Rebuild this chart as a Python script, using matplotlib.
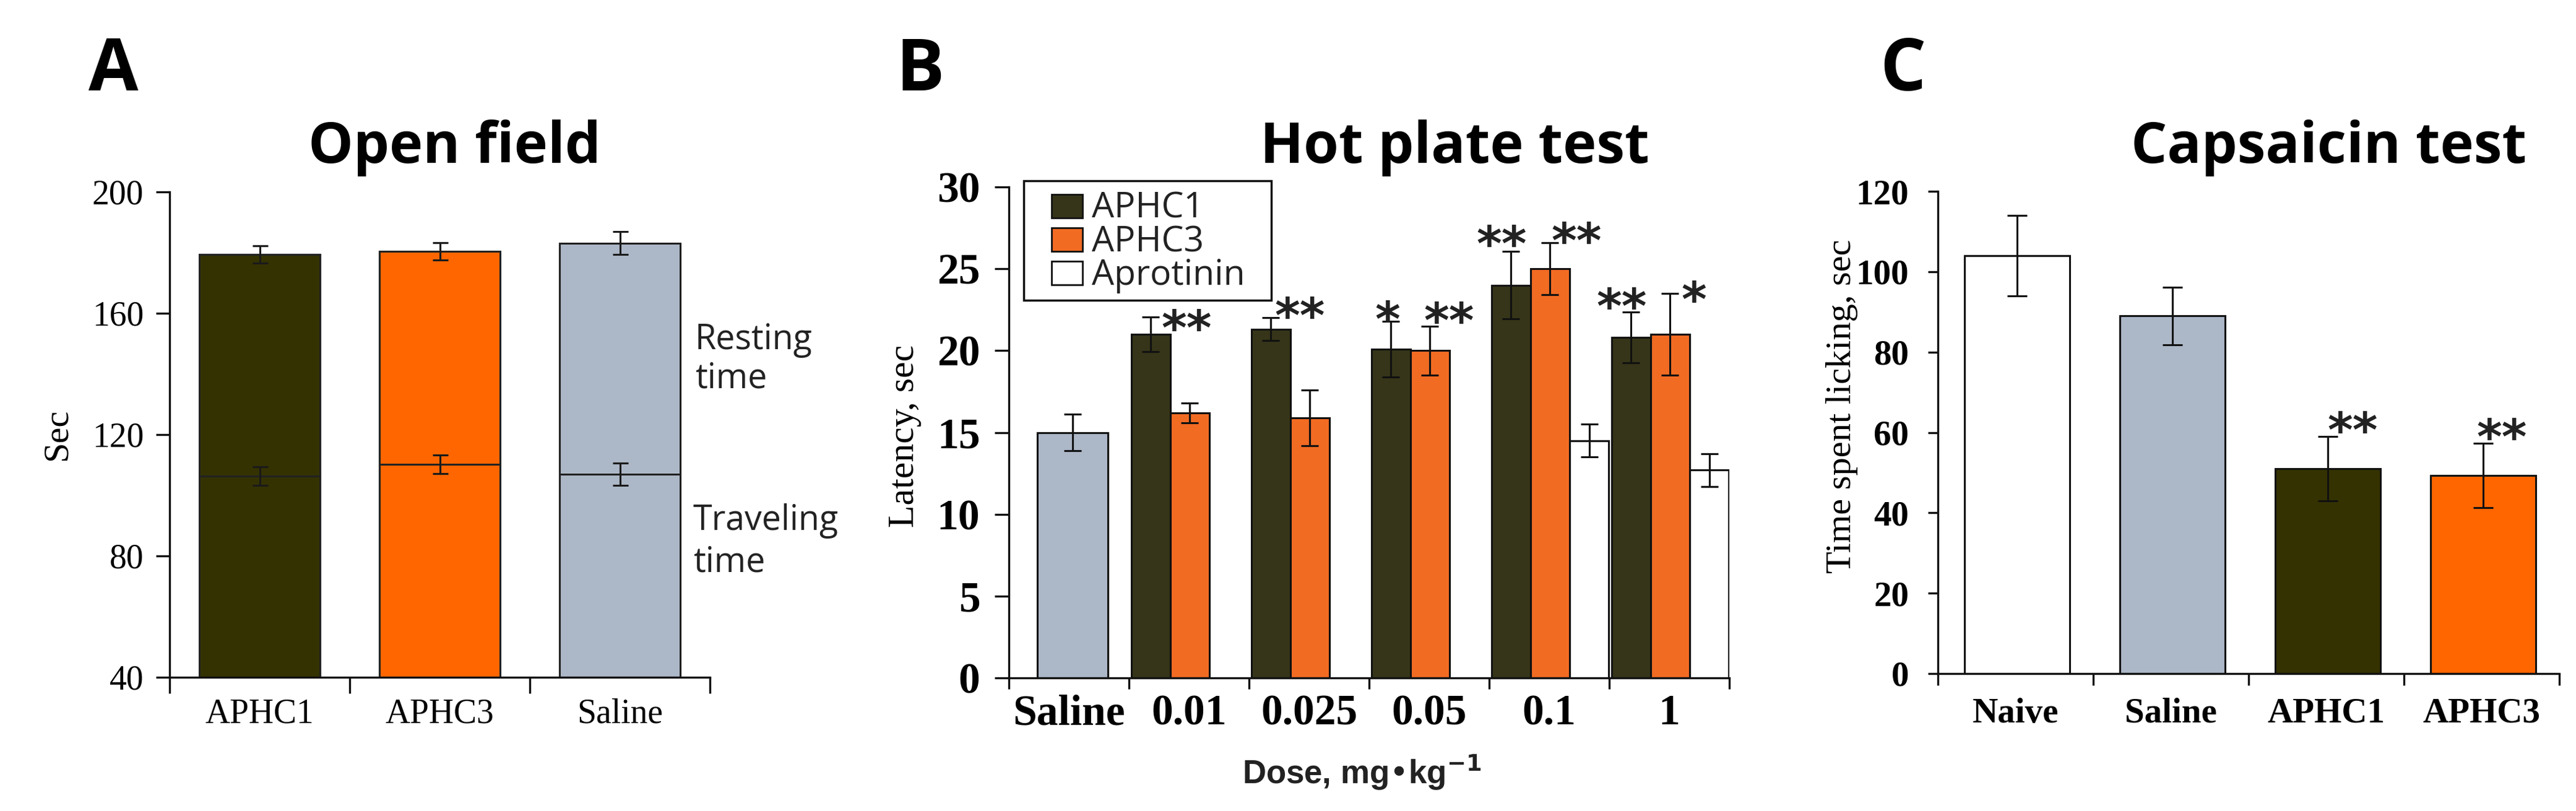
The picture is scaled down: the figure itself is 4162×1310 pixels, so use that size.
import matplotlib
matplotlib.use('Agg')
import matplotlib.pyplot as plt
from matplotlib.patches import Rectangle

# ---- A: Open field ----
grupos_a = ['APHC1', 'APHC3', 'Saline']
viagem = [106.3, 110.2, 107.0]          # traveling time (bottom part)
viagem_err = [3.0, 3.0, 3.7]
descanso = [73.1, 70.2, 76.1]           # resting time (top part)
total_err = [2.8, 2.8, 3.8]

# ---- B: Hot plate test ----
doses = ['Saline', '0.01', '0.025', '0.05', '0.1', '1']
salina_b = 15.0
salina_b_err = 1.1
aphc1_b = [21.0, 21.3, 20.1, 24.0, 20.8]
aphc1_b_err = [1.05, 0.7, 1.7, 2.05, 1.55]
aphc3_b = [16.2, 15.9, 20.0, 25.0, 21.0]
aphc3_b_err = [0.6, 1.7, 1.5, 1.6, 2.5]
aprot_grupo = [4, 5]
aprot_b = [14.5, 12.7]
aprot_b_err = [1.0, 1.0]
estrelas_aphc1_b = ['**', '**', '*', '**', '**']
estrelas_aphc3_b = ['', '', '**', '**', '*']
series_b = ['APHC1', 'APHC3', 'Aprotinin']

# ---- C: Capsaicin test ----
grupos_c = ['Naive', 'Saline', 'APHC1', 'APHC3']
lamber = [104.0, 89.0, 51.0, 49.3]
lamber_err = [10.0, 7.2, 8.0, 8.0]
estrelas_c = ['', '', '**', '**']

OLIVA = '#343200'
LARANJA = '#FF6600'
CINZA = '#ACB7C7'
OLIVA_B = '#363519'
LARANJA_B = '#F26B23'

SERIF = 'Liberation Serif'
SANS = 'Open Sans'
W, H = 4162, 1310

fig = plt.figure(figsize=(W / 100, H / 100), dpi=100)


def caixa(esq, dir_, topo, base):
    return [esq / W, 1 - base / H, (dir_ - esq) / W, (base - topo) / H]


def eixos(ax, ylim, yticks, nbins, nomes, fs, peso, ylen, xlen, ypad, xpad):
    ax.set_xlim(0, nbins)
    ax.set_ylim(*ylim)
    for s in ['top', 'right']:
        ax.spines[s].set_visible(False)
    for s in ['left', 'bottom']:
        ax.spines[s].set_linewidth(2.4)
        ax.spines[s].set_color('#111111')
    ax.set_yticks(yticks)
    ax.set_xticks(range(nbins + 1))
    ax.set_xticklabels([])
    ax.set_xticks([i + 0.5 for i in range(nbins)], minor=True)
    ax.set_xticklabels(nomes, minor=True)
    ax.tick_params(axis='y', direction='out', length=ylen, width=2.4,
                   pad=ypad, labelsize=fs, color='#111111')
    ax.tick_params(axis='x', which='major', direction='out', length=xlen,
                   width=2.4, color='#111111')
    ax.tick_params(axis='x', which='minor', length=0, pad=xpad, labelsize=fs)
    for lab in ax.get_yticklabels() + ax.get_xticklabels(minor=True):
        lab.set_fontfamily(SERIF)
        lab.set_fontweight(peso)


def estrela(ax, x, y, txt):
    ax.annotate(txt, xy=(x, y), xytext=(0, -0.58 * 56), textcoords='offset points',
                ha='center', va='baseline', fontsize=56, family='DejaVu Sans',
                weight='bold', color='#222222', annotation_clip=False, zorder=6)


# ================= A =================
axA = fig.add_axes(caixa(274, 1147, 310, 1094))
xa = [i + 0.5 for i in range(len(grupos_a))]
cores_a = [OLIVA, LARANJA, CINZA]
axA.bar(xa, [v - 40 for v in viagem], bottom=40, width=0.667, color=cores_a,
        edgecolor='#222222', linewidth=2.2, zorder=2)
axA.bar(xa, descanso, bottom=viagem, width=0.667, color=cores_a,
        edgecolor='#222222', linewidth=2.2, zorder=2)
topo_a = [v + d for v, d in zip(viagem, descanso)]
axA.errorbar(xa, viagem, yerr=viagem_err, fmt='none', ecolor='#1a1a1a',
             elinewidth=2.2, capsize=9, capthick=2.2, zorder=3)
axA.errorbar(xa, topo_a, yerr=total_err, fmt='none', ecolor='#1a1a1a',
             elinewidth=2.2, capsize=9, capthick=2.2, zorder=3)
eixos(axA, (40, 200), [40, 80, 120, 160, 200], 3, grupos_a, 40, 'normal',
      16, 19, 14, 24)
for txt, xx, yy in [('Resting', 1123, 564), ('time', 1123, 627),
                    ('Traveling', 1120, 856), ('time', 1120, 923)]:
    fig.text(xx / W, 1 - yy / H, txt, fontsize=40, family=SANS,
             color='#222222', va='baseline')
fig.text(93 / W, 1 - 702 / H, 'Sec', rotation=90, fontsize=42, family=SERIF,
         ha='center', va='center')
fig.text(734 / W, 1 - 263 / H, 'Open field', fontsize=66, family=SANS,
         weight='bold', ha='center', va='baseline')
fig.text(143 / W, 1 - 146 / H, 'A', fontsize=84, family=SANS, weight='bold',
         va='baseline')

# ================= B =================
axB = fig.add_axes(caixa(1630, 2794, 302, 1095))
wb = 0.325
axB.bar([0.53], [salina_b], width=0.59, color=CINZA, edgecolor='#111111',
        linewidth=2.2, zorder=2)
axB.errorbar([0.53], [salina_b], yerr=[salina_b_err], fmt='none', ecolor='#111111',
             elinewidth=2.2, capsize=10, capthick=2.2, zorder=3)
g = list(range(1, len(doses)))
x1 = [i + 0.02 + wb / 2 for i in g]
x3 = [i + 0.345 + wb / 2 for i in g]
xp = [i + 0.67 + wb / 2 for i in aprot_grupo]
cores_b = [OLIVA_B, LARANJA_B, 'white']
for xs, ys, es, cor in [(x1, aphc1_b, aphc1_b_err, cores_b[0]),
                        (x3, aphc3_b, aphc3_b_err, cores_b[1]),
                        (xp, aprot_b, aprot_b_err, cores_b[2])]:
    axB.bar(xs, ys, width=wb, color=cor, edgecolor='#111111', linewidth=2.2, zorder=2)
    axB.errorbar(xs, ys, yerr=es, fmt='none', ecolor='#111111', elinewidth=2.2,
                 capsize=10, capthick=2.2, zorder=3)
# star placement (offset from bar centre, gap above error bar)
dx1 = [0.30, 0.24, -0.03, -0.08, -0.08]
pad1 = [0.0, 0.8, 0.8, 1.15, 1.05]
dx3 = [0, 0, 0.16, 0.22, 0.20]
pad3 = [0, 0, 1.0, 0.8, 0.3]
for i in range(len(g)):
    if estrelas_aphc1_b[i]:
        estrela(axB, x1[i] + dx1[i], aphc1_b[i] + aphc1_b_err[i] + pad1[i],
                estrelas_aphc1_b[i])
    if estrelas_aphc3_b[i]:
        estrela(axB, x3[i] + dx3[i], aphc3_b[i] + aphc3_b_err[i] + pad3[i],
                estrelas_aphc3_b[i])
eixos(axB, (0, 30), list(range(0, 31, 5)), 6, doses, 50, 'bold', 16.5, 13, 17, 19)

# legend box drawn by hand (tight rows as in the original)
fig.add_artist(Rectangle((1654 / W, 1 - 485 / H), 400 / W, 193 / H,
                         transform=fig.transFigure, facecolor='white',
                         edgecolor='#111111', linewidth=2.5, zorder=5))
for k, (nome, cor) in enumerate(zip(series_b, cores_b)):
    yc = 333 + 54 * k
    fig.add_artist(Rectangle((1699 / W, 1 - (yc + 19) / H), 50 / W, 38 / H,
                             transform=fig.transFigure, facecolor=cor,
                             edgecolor='#111111', linewidth=2, zorder=6))
    fig.text(1764 / W, 1 - (yc + 19) / H, nome, fontsize=41, family=SANS,
             color='#222222', va='baseline', zorder=6)

fig.text(1462 / W, 1 - 704 / H, 'Latency, sec', rotation=90, fontsize=43,
         family=SERIF, ha='center', va='center')
fig.text(2200 / W, 1 - 1266 / H, r'Dose, mg•kg$^{\mathbf{-1}}$', fontsize=38,
         family='Liberation Sans', weight='bold',
         ha='center', va='baseline', color='#222222')
fig.text(2350 / W, 1 - 263 / H, 'Hot plate test', fontsize=66, family=SANS,
         weight='bold', ha='center', va='baseline')
fig.text(1448 / W, 1 - 146 / H, 'B', fontsize=84, family=SANS, weight='bold',
         va='baseline')

# ================= C =================
axC = fig.add_axes(caixa(3131, 4135, 309, 1088))
xc = [i + 0.51 for i in range(len(grupos_c))]
axC.bar(xc, lamber, width=0.675, color=['white', CINZA, OLIVA, LARANJA],
        edgecolor='#111111', linewidth=2.2, zorder=2)
axC.errorbar(xc, lamber, yerr=lamber_err, fmt='none', ecolor='#111111',
             elinewidth=2.2, capsize=11.5, capthick=2.2, zorder=3)
dxc = [0, 0, 0.16, 0.12]
for i, s in enumerate(estrelas_c):
    if s:
        estrela(axC, xc[i] + dxc[i], lamber[i] + lamber_err[i] + 4.3, s)
eixos(axC, (0, 120), list(range(0, 121, 20)), 4, grupos_c, 41, 'bold',
      11.5, 14, 22, 28)
fig.text(2976 / W, 1 - 656 / H, 'Time spent licking, sec', rotation=90, fontsize=42,
         family=SERIF, ha='center', va='center')
fig.text(3763 / W, 1 - 263 / H, 'Capsaicin test', fontsize=66, family=SANS,
         weight='bold', ha='center', va='baseline')
fig.text(3037 / W, 1 - 146 / H, 'C', fontsize=84, family=SANS, weight='bold',
         va='baseline')

fig.savefig('out.png', dpi=100)
